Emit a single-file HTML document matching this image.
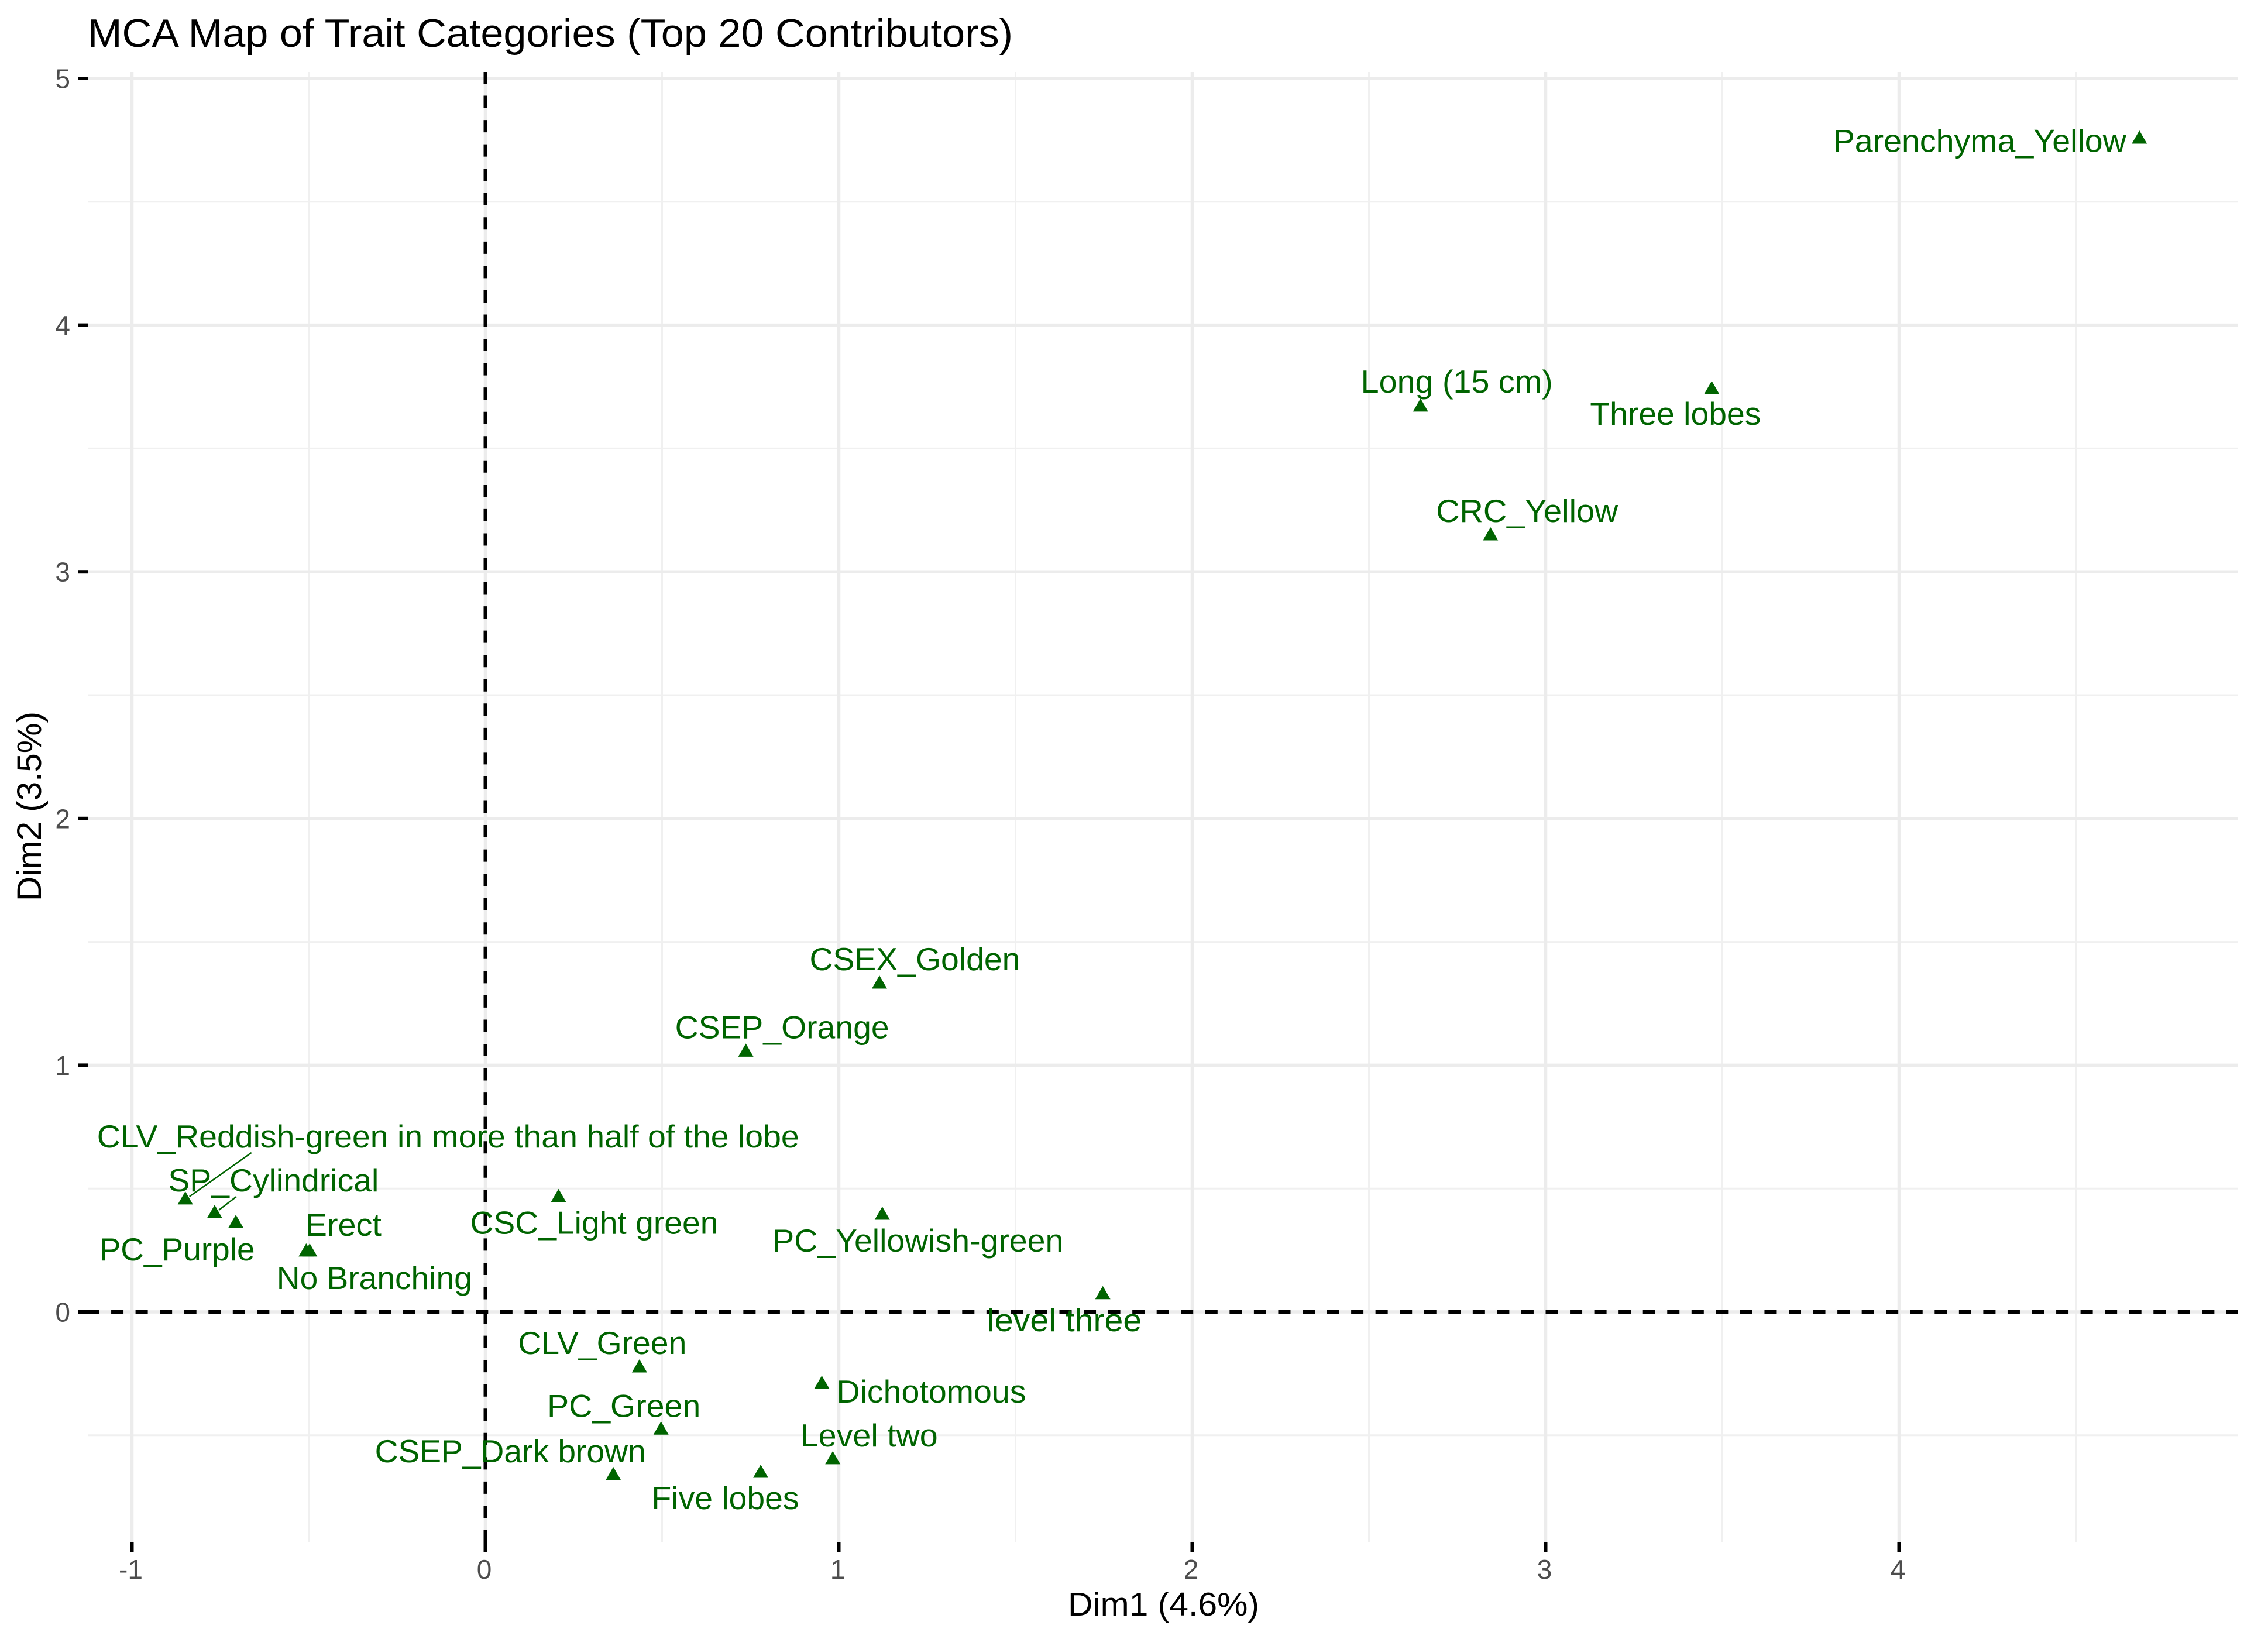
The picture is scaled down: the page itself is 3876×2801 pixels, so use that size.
<!DOCTYPE html>
<html lang="en">
<head>
<meta charset="utf-8">
<title>MCA Map of Trait Categories</title>
<style>
html,body{margin:0;padding:0;background:#fff;}
svg{display:block;font-family:"Liberation Sans",Arial,sans-serif;}
</style>
</head>
<body>
<svg id="chart" xmlns="http://www.w3.org/2000/svg" width="3876" height="2801" viewBox="0 0 3876 2801">
  <rect x="0" y="0" width="3876" height="2801" fill="#ffffff"/>
  <g id="grid"></g>
  <g id="ticks"></g>
  <g id="refs"></g>
  <g id="segments"></g>
  <g id="points"></g>
  <g id="labels"></g>
  <text x="150" y="80" font-size="68" fill="#000000" textLength="1581" lengthAdjust="spacingAndGlyphs">MCA Map of Trait Categories (Top 20 Contributors)</text>
  <text x="1825" y="2761" font-size="57" fill="#000000" textLength="327" lengthAdjust="spacingAndGlyphs">Dim1 (4.6%)</text>
  <text transform="translate(70,1540) rotate(-90)" x="0" y="0" font-size="58" fill="#000000" textLength="324" lengthAdjust="spacingAndGlyphs">Dim2 (3.5%)</text>
</svg>
<script>
const categories = ["CLV_Reddish-green in more than half of the lobe","SP_Cylindrical","PC_Purple","Erect","No Branching","CSC_Light green","CLV_Green","PC_Green","CSEP_Dark brown","Five lobes","PC_Yellowish-green","level three","Dichotomous","Level two","Parenchyma_Yellow","Long (15 cm)","Three lobes","CRC_Yellow","CSEX_Golden","CSEP_Orange"];
const dim1Values = [-0.849,-0.766,-0.706,-0.497,-0.507,0.207,0.436,0.497,0.362,0.779,1.123,1.747,0.952,0.983,4.680,2.646,3.470,2.844,1.115,0.737];
const dim2Values = [0.458,0.403,0.363,0.247,0.247,0.468,-0.223,-0.475,-0.659,-0.650,0.396,0.074,-0.289,-0.595,4.758,3.672,3.743,3.150,1.333,1.057];
const xTickValues = [-1,0,1,2,3,4];
const yTickValues = [0,1,2,3,4,5];
const xMinorValues = [-0.5,0.5,1.5,2.5,3.5,4.5];
const yMinorValues = [-0.5,0.5,1.5,2.5,3.5,4.5];

const SVG_NS = "http://www.w3.org/2000/svg";
const panel = {left:150, right:3825, top:123, bottom:2636};
const GREEN = "#006400";
function xScale(v){ return 829.5 + 604 * v; }
function yScale(v){ return 2242 - 421.6 * v; }
function make(tag, attrs, parent){
  const el = document.createElementNS(SVG_NS, tag);
  for (const k in attrs) el.setAttribute(k, attrs[k]);
  parent.appendChild(el);
  return el;
}
const gridG = document.getElementById("grid");
const ticksG = document.getElementById("ticks");
const refsG = document.getElementById("refs");
const segG = document.getElementById("segments");
const ptsG = document.getElementById("points");
const lblG = document.getElementById("labels");

yMinorValues.forEach(function(v){
  const l = make("line",{x1:panel.left,x2:panel.right,y1:yScale(v),y2:yScale(v),stroke:"#f0f0f0","stroke-width":3},gridG);
  
  
});
xMinorValues.forEach(function(v){
  const l = make("line",{x1:xScale(v),x2:xScale(v),y1:panel.top,y2:panel.bottom,stroke:"#f0f0f0","stroke-width":3},gridG);
  
  
});
yTickValues.forEach(function(v){
  const l = make("line",{x1:panel.left,x2:panel.right,y1:yScale(v),y2:yScale(v),stroke:"#ececec","stroke-width":5.5},gridG);
  
  
  const t = make("line",{x1:134,x2:panel.left,y1:yScale(v),y2:yScale(v),stroke:"#000000","stroke-width":6},ticksG);
  
  
  const s = make("text",{x:120,y:yScale(v)+16.5,"font-size":46,fill:"#4d4d4d","text-anchor":"end"},ticksG);
  
  
  s.textContent = String(v);
});
xTickValues.forEach(function(v){
  const l = make("line",{x1:xScale(v),x2:xScale(v),y1:panel.top,y2:panel.bottom,stroke:"#ececec","stroke-width":5.5},gridG);
  
  
  const t = make("line",{x1:xScale(v),x2:xScale(v),y1:panel.bottom,y2:2653,stroke:"#000000","stroke-width":6},ticksG);
  
  
  const s = make("text",{x:xScale(v)-2,y:2698,"font-size":46,fill:"#4d4d4d","text-anchor":"middle"},ticksG);
  
  
  s.textContent = String(v);
});

const hRef = make("line",{x1:148.5,x2:panel.right,y1:yScale(0),y2:yScale(0),stroke:"#000000","stroke-width":6,"stroke-dasharray":"21 20.55"},refsG);


const vRef = make("line",{x1:xScale(0),x2:xScale(0),y1:panel.bottom,y2:panel.top,stroke:"#000000","stroke-width":6,"stroke-dasharray":"21 20.55"},refsG);



/* Label layout relative to each point: [dx, dy, rendered width] — not data. */
const labelLayout = [[-151,-88,1200],[-79.5,-36,360],[-233.5,65,266],[-7.5,-26,130],[-50.5,65,334],[-151,64,424],[-207.5,-22,288],[-194.5,-21,262],[-407.5,-21,463],[-186.5,63,252],[-187.5,64,497],[-197.5,64,264],[25,33,324],[-55.5,-21,235],[-523.5,23.5,501],[-102,-23,328],[-208,62,292],[-93,-22,311],[-119.5,-22,360],[-121,-22,366]];
/* Connector layout: category index, offset of far end, offset of near end. */
const connectorLayout = [[0,113,-79,7,-4],[1,37,-27,7,-4]];

connectorLayout.forEach(function(c){
  const cx = xScale(dim1Values[c[0]]);
  const cy = yScale(dim2Values[c[0]]);
  const l = make("line",{x1:cx+c[1],y1:cy+c[2],x2:cx+c[3],y2:cy+c[4],stroke:GREEN,"stroke-width":2.5},segG);
  
  
});

categories.forEach(function(name,i){
  const cx = xScale(dim1Values[i]);
  const cy = yScale(dim2Values[i]);
  const p = make("polygon",{points:(cx-13)+","+(cy+9.5)+" "+(cx+13)+","+(cy+9.5)+" "+cx+","+(cy-13),fill:GREEN},ptsG);
  
  
  const lay = labelLayout[i];
  const t = make("text",{x:cx+lay[0],y:cy+lay[1],"font-size":55,fill:GREEN,textLength:lay[2],lengthAdjust:"spacingAndGlyphs"},lblG);
  
  
  t.textContent = name;
});
</script>
</body>
</html>
